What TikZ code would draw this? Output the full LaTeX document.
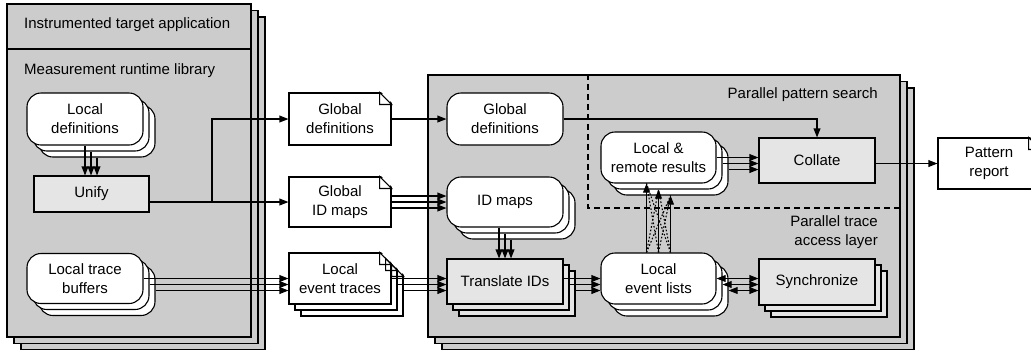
\documentclass[tikz,border=0pt]{standalone}
\usepackage{fontspec}
\setmainfont{Liberation Sans}
\usetikzlibrary{arrows.meta,shadows,calc}

\definecolor{layergray}{gray}{0.8}
\definecolor{stepgray}{gray}{0.9}

\begin{document}
\begin{tikzpicture}[
  x=0.5pt, y=-0.5pt, line width=0.55pt,
  every node/.style={font=\fontsize{7.5}{9.5}\selectfont},
  shell/.style={draw, fill=layergray, inner sep=0pt,
    copy shadow={shadow xshift=7pt, shadow yshift=-6.5pt, draw, fill=layergray},
    copy shadow={shadow xshift=3.5pt, shadow yshift=-3.25pt, draw, fill=layergray}},
  data/.style={draw, fill=white, rounded corners=7pt, align=center,
               minimum width=58pt, minimum height=26pt},
  stepbox/.style={draw, fill=stepgray, align=center, minimum width=58pt, minimum height=22.5pt},
  docbox/.style={draw, fill=white, align=center, minimum width=51pt, minimum height=25.5pt},
  many/.style={copy shadow={shadow xshift=6pt, shadow yshift=-6pt, draw, fill=#1},
               copy shadow={shadow xshift=3pt, shadow yshift=-3pt, draw, fill=#1}},
  arr/.style={-{Triangle[length=4.5pt, width=3.4pt]}},
  biarr/.style={{Triangle[length=4.5pt, width=3.4pt]}-{Triangle[length=4.5pt, width=3.4pt]}},
  msg/.style={dash pattern=on 0.8pt off 1pt},
  sep/.style={dash pattern=on 3pt off 2pt}
]
\useasboundingbox (0,0) rectangle (1031,349);

% target application with the measurement library
\node[shell, minimum width=122pt, minimum height=166.5pt] (app) at (129,170.5) {};
\node[anchor=west] (apptitle) at (17,25) {Instrumented target application};
\coordinate (bar) at (0,49);
\draw (app.west |- bar) -- (app.east |- bar);
\node[anchor=west] (rtlib) at (17,71) {Measurement runtime library};

\node[data, many=white] (ldef) at (85,119) {Local\\definitions};
\node[stepbox, minimum width=57.5pt, minimum height=18pt] (unify) at (91.5,194) {Unify};
\node[data, many=white, minimum height=25pt] (ltb) at (85,278.5) {Local trace\\buffers};

% files between measurement and analysis
\node[docbox, minimum height=26pt] (gdef) at (340,119) {Global\\definitions};
\node[docbox, minimum height=25pt] (gmap) at (340,202) {Global\\ID maps};
\node[docbox, many=white] (letr) at (340,278.5) {Local\\event traces};
\node[docbox] (report) at (989,163.5) {Pattern\\report};

% parallel analyzer
\node[shell, minimum width=236pt, minimum height=131pt] (ana) at (664,206) {};
\coordinate (cut) at (588,208);
\draw[sep] (cut |- ana.north) -- (cut) -- (cut -| ana.east);
\node[anchor=east] (pps) at (885,95) {Parallel pattern search};
\node[anchor=east, align=right] (ptal) at (885,232.5) {Parallel trace\\access layer};

\node[data] (ggdef) at (505,119) {Global\\definitions};
\node[data, many=white, minimum height=25pt] (idm) at (505,202) {ID maps};
\node[stepbox, many=stepgray] (trans) at (505,281.5) {Translate IDs};
\node[data, many=white, minimum width=57.5pt, minimum height=25.5pt] (lel) at (658.5,278.5) {Local\\event lists};
\node[data, many=white, minimum width=57.5pt, minimum height=25.5pt] (lrr) at (658.5,157.5) {Local \&\\remote results};
\node[stepbox] (collate) at (817,160.5) {Collate};
\node[stepbox, many=stepgray, minimum height=23pt] (sync) at (817,282) {Synchronize};

% folded corners of the files
\foreach \d/\k in {letr/2, letr/1, letr/0, gdef/0, gmap/0, report/0} {
  \coordinate (c) at ([shift={(6*\k,6*\k)}]\d.north east);
  \fill[white] ([shift={(-6pt,1pt)}]c) -- ([shift={(1pt,1pt)}]c) -- ([shift={(1pt,-6pt)}]c) -- cycle;
  \draw ([xshift=-6pt]c) |- ([yshift=-6pt]c) -- cycle;
}

% unify writes definitions and maps
\coordinate (fork) at (212,202);
\draw (unify.east |- gmap.west) -- (fork);
\draw[arr] (fork) -- (gmap.west);
\draw[arr] (fork) |- (gdef.west);
\draw[arr] (gdef.east) -- (ggdef.west);
\draw[arr] (ggdef.east) -| (collate.north);
\draw[arr] (collate.east |- report.west) -- (report.west);

\foreach \k in {0,1,2} {
  \coordinate (s) at ([shift={(6*\k,6*\k)}]ldef.south);
  \draw[arr] (s) -- (s |- unify.north);
  \draw[arr] ([shift={(0,6*\k-6)}]gmap.east) -- ([shift={(0,6*\k-6)}]idm.west);
  \coordinate (s) at ([shift={(6*\k-6,6*\k)}]idm.south);
  \draw[arr] (s) -- (s |- trans.north);
  \coordinate (s) at ([shift={(6*\k,6*\k)}]ltb.east);
  \draw[arr] (s) -- (s -| letr.west);
  \coordinate (s) at ([shift={(6*\k,6*\k)}]letr.east);
  \draw[arr] (s) -- (s -| trans.west);
  \coordinate (s) at ([shift={(6*\k,6*\k-3)}]trans.east);
  \draw[arr] (s) -- (s -| lel.west);
  \coordinate (s) at ([shift={(6*\k,6*\k)}]lel.east);
  \draw[biarr] (s) -- (s -| sync.west);
  \coordinate (s) at ([shift={(6*\k,6*\k)}]lrr.east);
  \draw[arr] (s) -- (s -| collate.west);
  \coordinate (lo\k) at ([shift={(12*\k-12,0)}]lel.north);
  \coordinate (hi\k) at ([shift={(12*\k-12,6*\k)}]lrr.south);
}

% results exchanged between processes
\foreach \i/\j in {0/1, 0/2, 1/0, 1/2, 2/0, 2/1}
  \draw[msg] (lo\i) -- (hi\j);
\foreach \i in {0,1,2}
  \draw[arr] (lo\i) -- (hi\i);

\end{tikzpicture}
\end{document}
